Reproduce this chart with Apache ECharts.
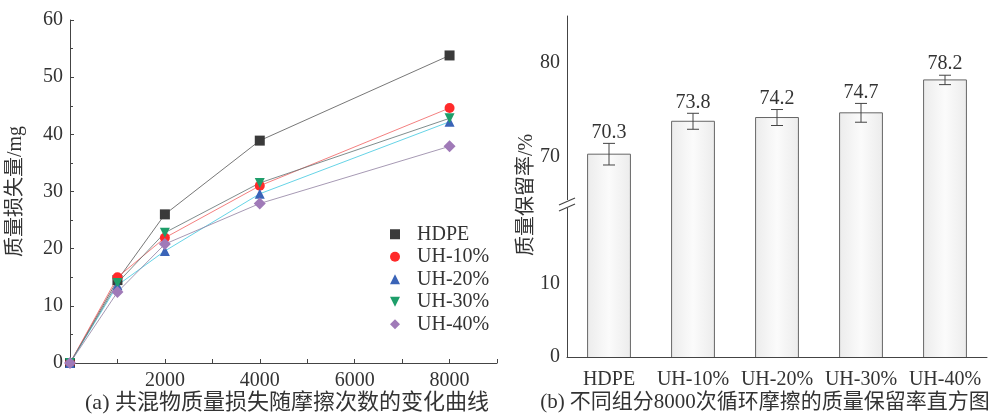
<!DOCTYPE html>
<html>
<head>
<meta charset="utf-8">
<script src="https://cdn.jsdelivr.net/npm/echarts@6/dist/echarts.min.js"></script>
<style>
html, body { margin: 0; padding: 0; background: #fff; }
#main { width: 996px; height: 417px; }
</style>
</head>
<body>
<div id="main"></div>
<script>
// (a) mass loss vs. friction cycles
var cycles = [0, 1000, 2000, 4000, 8000];
var lossHDPE = [0, 14.5, 26.0, 38.9, 53.8];
var lossUH10 = [0, 15.0, 21.9, 31.0, 44.6];
var lossUH20 = [0, 13.6, 19.6, 29.6, 42.2];
var lossUH30 = [0, 14.0, 22.8, 31.5, 42.8];
var lossUH40 = [0, 12.4, 20.8, 27.9, 37.9];

// (b) mass retention after 8000 cycles
var groups = ['HDPE', 'UH-10%', 'UH-20%', 'UH-30%', 'UH-40%'];
var retention = [70.3, 73.8, 74.2, 74.7, 78.2];
var retentionErr = [1.15, 0.85, 0.85, 1.0, 0.5];

var serif = "'Liberation Serif', 'Noto Sans CJK SC', serif";
var txt = '#333';

var chart = echarts.init(document.getElementById('main'));

function pairs(ys) {
    return cycles.map(function (x, i) { return [x, ys[i]]; });
}

var lineDefs = [
    {name: 'HDPE', data: lossHDPE, color: '#3a3a3a', line: '#555', symbol: 'rect', size: 10},
    {name: 'UH-10%', data: lossUH10, color: '#ff2a2a', line: '#f06060', symbol: 'circle', size: 10},
    {name: 'UH-20%', data: lossUH20, color: '#3a64b8', line: '#40c8e0', symbol: 'triangle', size: 10},
    {name: 'UH-30%', data: lossUH30, color: '#1e9e6a', line: '#607070', symbol: 'path://M0,0L10,0L5,10Z', size: 10},
    {name: 'UH-40%', data: lossUH40, color: '#a07ab8', line: '#9080a0', symbol: 'diamond', size: 12}
];

var axisLine = {lineStyle: {color: '#444', width: 1}};

var series = lineDefs.map(function (d) {
    return {
        name: d.name,
        type: 'line',
        xAxisIndex: 0,
        yAxisIndex: 0,
        data: pairs(d.data),
        symbol: d.symbol,
        symbolSize: d.size,
        itemStyle: {color: d.color},
        lineStyle: {color: d.line, width: 1, opacity: 0.8}
    };
});

var barFill = new echarts.graphic.LinearGradient(0, 0, 1, 0, [
    {offset: 0, color: '#ececec'},
    {offset: 0.5, color: '#fbfbfb'},
    {offset: 1, color: '#ececec'}
]);

// one bar drawn across the broken axis: upper part (with top edge) and lower part
function barRenderer(isUpper) {
    return function (params, api) {
        var cs = params.coordSys;
        var i = api.value(0), v = api.value(1);
        var p = api.coord([i, v]);
        var w = api.size([1, 0])[0] * 0.51;
        var x0 = p[0] - w / 2, x1 = p[0] + w / 2;
        var yTop = Math.max(p[1], cs.y);
        var yBot = isUpper ? cs.y + cs.height : api.coord([i, 0])[1];
        var st = {stroke: '#666', lineWidth: 1};
        var kids = [
            {type: 'rect', shape: {x: x0, y: yTop, width: w, height: yBot - yTop}, style: {fill: barFill}},
            {type: 'line', shape: {x1: x0, y1: yTop, x2: x0, y2: yBot}, style: st},
            {type: 'line', shape: {x1: x1, y1: yTop, x2: x1, y2: yBot}, style: st}
        ];
        if (isUpper) {
            kids.push({type: 'line', shape: {x1: x0, y1: yTop, x2: x1, y2: yTop}, style: st});
        }
        return {type: 'group', children: kids};
    };
}

var barData = retention.map(function (v, i) { return [i, v]; });

series.push({
    type: 'custom', xAxisIndex: 1, yAxisIndex: 1,
    data: barData, renderItem: barRenderer(true), clip: true
});
series.push({
    type: 'custom', xAxisIndex: 2, yAxisIndex: 2,
    data: barData, renderItem: barRenderer(false), clip: true
});
series.push({
    type: 'custom', xAxisIndex: 1, yAxisIndex: 1,
    data: retention.map(function (v, i) { return [i, v, retentionErr[i]]; }),
    renderItem: function (params, api) {
        var i = api.value(0), v = api.value(1), e = api.value(2);
        var top = api.coord([i, v + e]);
        var bot = api.coord([i, v - e]);
        var hw = 6;
        var st = {stroke: '#444', lineWidth: 1};
        return {
            type: 'group',
            children: [
                {type: 'line', shape: {x1: top[0], y1: top[1], x2: bot[0], y2: bot[1]}, style: st},
                {type: 'line', shape: {x1: top[0] - hw, y1: top[1], x2: top[0] + hw, y2: top[1]}, style: st},
                {type: 'line', shape: {x1: bot[0] - hw, y1: bot[1], x2: bot[0] + hw, y2: bot[1]}, style: st},
                {type: 'text', style: {
                    text: v.toFixed(1), x: top[0], y: top[1] - 11,
                    align: 'center', verticalAlign: 'middle',
                    font: '20px ' + serif, fill: txt
                }}
            ]
        };
    },
    z: 5
});

option = {
    animation: false,
    textStyle: {fontFamily: serif},
    legend: {
        orient: 'vertical',
        left: 385,
        top: 219,
        itemWidth: 10,
        itemHeight: 10,
        itemGap: 2,
        selectedMode: false,
        data: lineDefs.map(function (d) { return {name: d.name, icon: d.symbol, itemStyle: {color: d.color}}; }),
        textStyle: {fontFamily: serif, fontSize: 20, color: txt, lineHeight: 20.5, padding: [0, 0, 0, 12]}
    },
    grid: [
        {left: 70, top: 20, width: 427, height: 343},
        {left: 567, top: 16, width: 420, height: 188},
        {left: 567, top: 204, width: 420, height: 153}
    ],
    xAxis: [
        {
            type: 'value', gridIndex: 0, min: 0, max: 9000, interval: 1000,
            axisLine: axisLine,
            axisTick: {inside: true, length: 4, lineStyle: {color: '#444'}},
            splitLine: {show: false},
            axisLabel: {
                fontFamily: serif, fontSize: 20, color: txt, margin: 8,
                formatter: function (v) { return (v > 0 && v % 2000 === 0) ? v : ''; }
            }
        },
        {type: 'category', gridIndex: 1, data: groups, show: false},
        {
            type: 'category', gridIndex: 2, data: groups,
            axisLine: axisLine,
            axisTick: {show: false},
            axisLabel: {fontFamily: serif, fontSize: 20, color: txt, margin: 13, interval: 0, hideOverlap: false}
        }
    ],
    yAxis: [
        {
            type: 'value', gridIndex: 0, min: 0, max: 60, interval: 10,
            name: '质量损失量/mg', nameLocation: 'middle', nameGap: 44,
            nameTextStyle: {fontFamily: serif, fontSize: 20, color: txt},
            axisLine: {show: true, lineStyle: {color: '#444'}},
            axisTick: {inside: true, length: 4, lineStyle: {color: '#444'}},
            minorTick: {show: true, splitNumber: 2, length: 3, lineStyle: {color: '#444'}},
            splitLine: {show: false},
            axisLabel: {fontFamily: serif, fontSize: 20, color: txt, margin: 7}
        },
        {
            type: 'value', gridIndex: 1, min: 65, max: 85, interval: 5,
            axisLine: {show: true, lineStyle: {color: '#444'}},
            axisTick: {length: 4, lineStyle: {color: '#444'}},
            splitLine: {show: false},
            axisLabel: {
                fontFamily: serif, fontSize: 20, color: txt, margin: 7,
                formatter: function (v) { return v % 10 === 0 ? v : ''; }
            }
        },
        {
            type: 'value', gridIndex: 2, min: 0, max: 21, interval: 5,
            axisLine: {show: true, lineStyle: {color: '#444'}},
            axisTick: {length: 4, lineStyle: {color: '#444'}},
            splitLine: {show: false},
            axisLabel: {
                fontFamily: serif, fontSize: 20, color: txt, margin: 7,
                formatter: function (v) { return (v === 0 || v === 10) ? v : ''; }
            }
        }
    ],
    graphic: [
        // axis break marks
        {type: 'rect', shape: {x: 560, y: 200, width: 14, height: 8}, style: {fill: '#fff'}, z: 100},
        {type: 'line', shape: {x1: 559, y1: 205, x2: 575, y2: 198}, style: {stroke: '#444', lineWidth: 1.2}, z: 101},
        {type: 'line', shape: {x1: 559, y1: 211, x2: 575, y2: 204}, style: {stroke: '#444', lineWidth: 1.2}, z: 101},
        {
            type: 'text', x: 527, y: 195, rotation: Math.PI / 2,
            style: {text: '质量保留率/%', font: '20px ' + serif, fill: txt, align: 'center', verticalAlign: 'middle'}
        },
        {
            type: 'text', x: 287, y: 403,
            style: {text: '(a) 共混物质量损失随摩擦次数的变化曲线', font: '22px ' + serif, fill: txt, align: 'center', verticalAlign: 'middle'}
        },
        {
            type: 'text', x: 765, y: 402,
            style: {text: '(b) 不同组分8000次循环摩擦的质量保留率直方图', font: '21px ' + serif, fill: txt, align: 'center', verticalAlign: 'middle'}
        }
    ],
    series: series
};
chart.setOption(option);
</script>
</body>
</html>
